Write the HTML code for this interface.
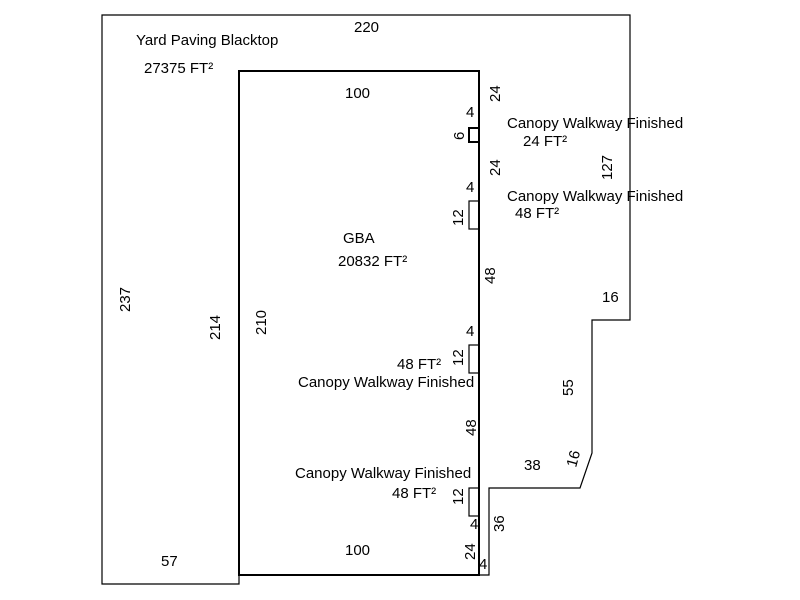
<!DOCTYPE html>
<html><head><meta charset="utf-8"><style>
html,body{margin:0;padding:0;background:#fff;width:800px;height:600px;overflow:hidden}
text{font-family:"Liberation Sans",Arial,sans-serif;font-size:15px;fill:#000}
</style></head><body>
<svg width="800" height="600" viewBox="0 0 800 600" xmlns="http://www.w3.org/2000/svg">
<g fill="none" stroke="#000">
<polyline stroke-width="1.2" points="239,575 239,584 102,584 102,15 630,15 630,320 592,320 592,453 580,488 489,488 489,575 479,575"/>
<rect x="239" y="71" width="240" height="504" stroke-width="2"/>
<rect x="469" y="128" width="10" height="14" stroke-width="2"/>
<rect x="469" y="201" width="10" height="28" stroke-width="1.2"/>
<rect x="469" y="345" width="10" height="28" stroke-width="1.2"/>
<rect x="469" y="488" width="10" height="28" stroke-width="1.2"/>
</g>
<text x="136" y="45">Yard Paving Blacktop</text>
<text x="144" y="73">27375 FT²</text>
<text x="354" y="32">220</text>
<text x="345" y="98">100</text>
<text x="343" y="243">GBA</text>
<text x="338" y="266">20832 FT²</text>
<text x="345" y="555">100</text>
<text x="161" y="566">57</text>
<text x="507" y="128">Canopy Walkway Finished</text>
<text x="523" y="146">24 FT²</text>
<text x="507" y="201">Canopy Walkway Finished</text>
<text x="515" y="218">48 FT²</text>
<text x="397" y="369">48 FT²</text>
<text x="298" y="387">Canopy Walkway Finished</text>
<text x="295" y="478">Canopy Walkway Finished</text>
<text x="392" y="498">48 FT²</text>
<text x="466" y="117">4</text>
<text x="466" y="192">4</text>
<text x="466" y="336">4</text>
<text x="470" y="529">4</text>
<text x="479" y="569">4</text>
<text x="602" y="302">16</text>
<text x="524" y="470">38</text>
<g>
<text transform="translate(130,312) rotate(-90)">237</text>
<text transform="translate(220,340) rotate(-90)">214</text>
<text transform="translate(266,335) rotate(-90)">210</text>
<text transform="translate(500,102) rotate(-90)">24</text>
<text transform="translate(464,140) rotate(-90)">6</text>
<text transform="translate(500,176) rotate(-90)">24</text>
<text transform="translate(612,180) rotate(-90)">127</text>
<text transform="translate(463,226) rotate(-90)">12</text>
<text transform="translate(495,284) rotate(-90)">48</text>
<text transform="translate(463,366) rotate(-90)">12</text>
<text transform="translate(573,396) rotate(-90)">55</text>
<text transform="translate(476,436) rotate(-90)">48</text>
<text transform="translate(576,468) rotate(-75)">16</text>
<text transform="translate(463,505) rotate(-90)">12</text>
<text transform="translate(504,532) rotate(-90)">36</text>
<text transform="translate(475,560) rotate(-90)">24</text>
</g>
</svg>
</body></html>
